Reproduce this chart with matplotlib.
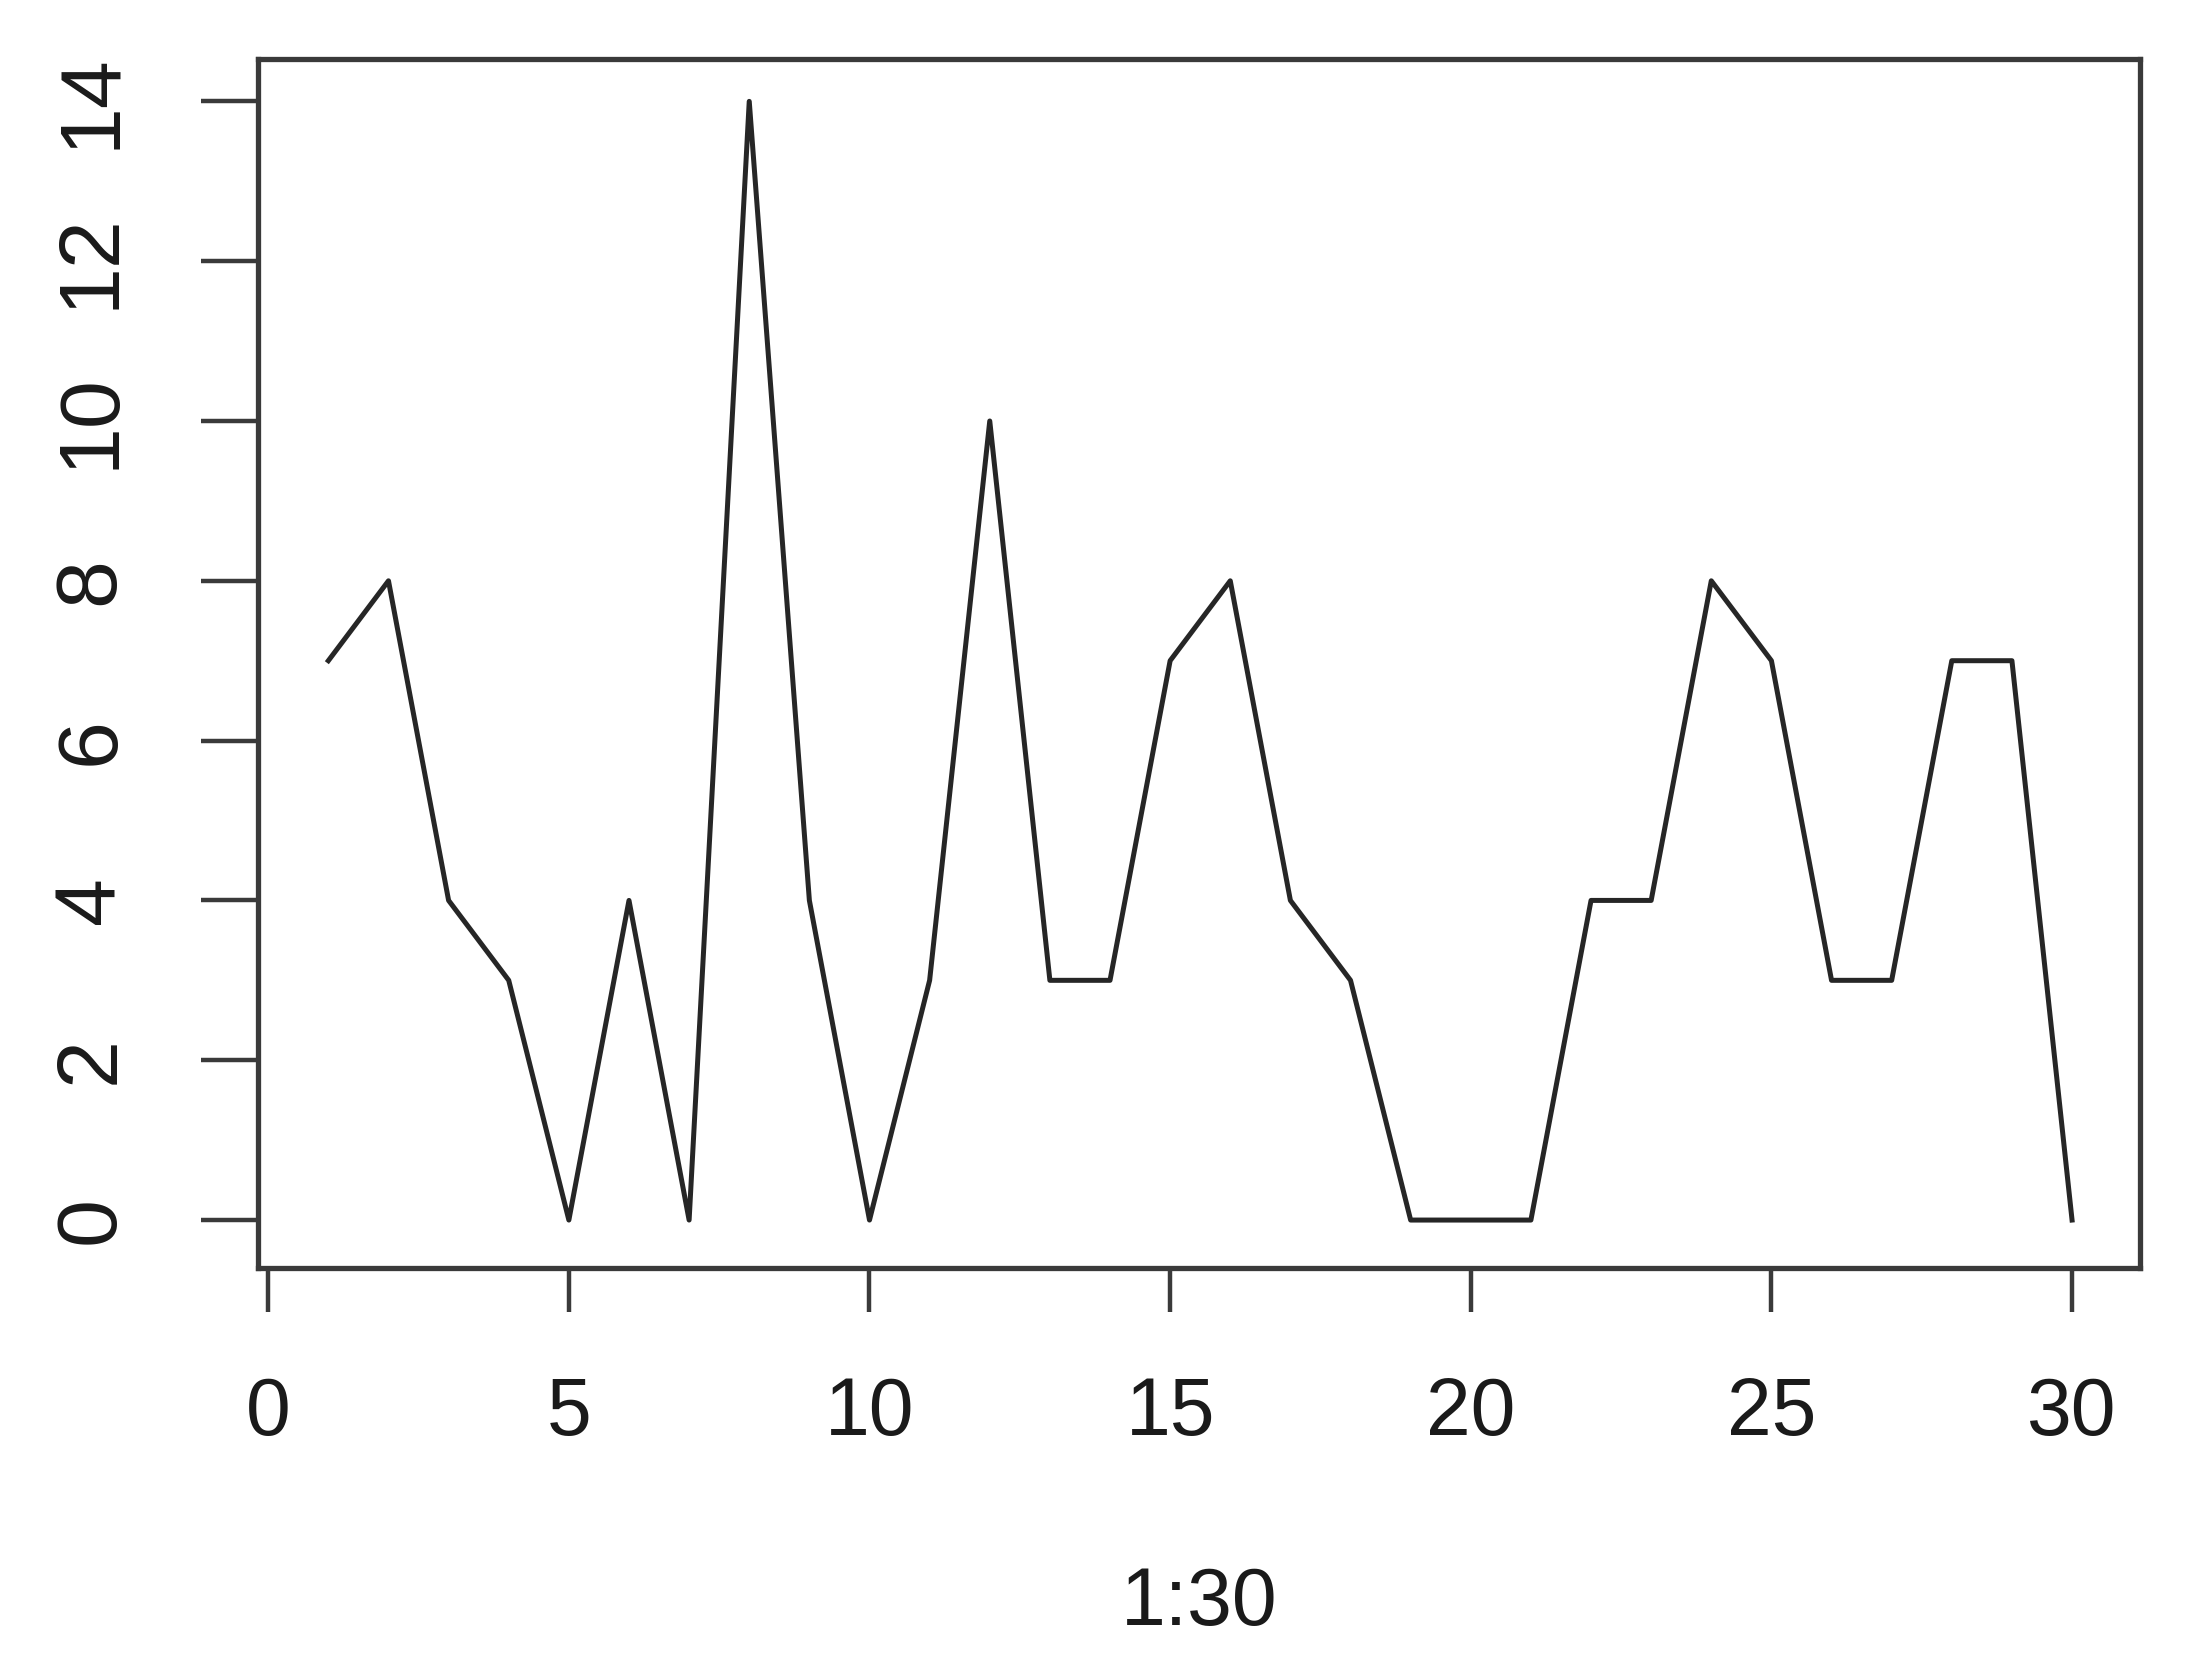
import numpy as np
import matplotlib.pyplot as plt

# Données
x = np.arange(1, 31)
y = [7, 8, 4, 3, 0, 4, 0, 14, 4, 0, 3, 10, 3, 3, 7,
     8, 4, 3, 0, 0, 0, 4, 4, 8, 7, 3, 3, 7, 7, 0]
x_ticks = [0, 5, 10, 15, 20, 25, 30]
y_ticks = [0, 2, 4, 6, 8, 10, 12, 14]
x_label = "1:30"

plt.rcParams['font.family'] = ['Liberation Sans', 'DejaVu Sans']

fig = plt.figure(figsize=(21.9, 16.71), dpi=100)
ax = fig.add_axes([258 / 2190, 1 - 1268 / 1671, (2140 - 258) / 2190, (1268 - 59) / 1671])

ax.plot(x, y, color="#262626", linewidth=3.6)

# Limites à la manière de R (environ 4 % de marge)
ax.set_xlim(-0.17, 31.13)
ax.set_ylim(-0.6, 14.53)

for s in ax.spines.values():
    s.set_linewidth(3.8)
    s.set_color("#3a3a3a")

ax.set_xticks(x_ticks)
ax.set_yticks(y_ticks)
ax.tick_params(axis="x", length=32, width=3.2, color="#3a3a3a", pad=46, labelsize=58, labelcolor="#1a1a1a")
ax.tick_params(axis="y", length=41, width=3.2, color="#3a3a3a", pad=50, labelsize=62, labelcolor="#1a1a1a")
for lab in ax.get_yticklabels():
    lab.set_rotation(90)
    lab.set_va("center")

ax.set_xlabel(x_label, fontsize=58, color="#1a1a1a", labelpad=82)

fig.savefig("out.png", dpi=100)
